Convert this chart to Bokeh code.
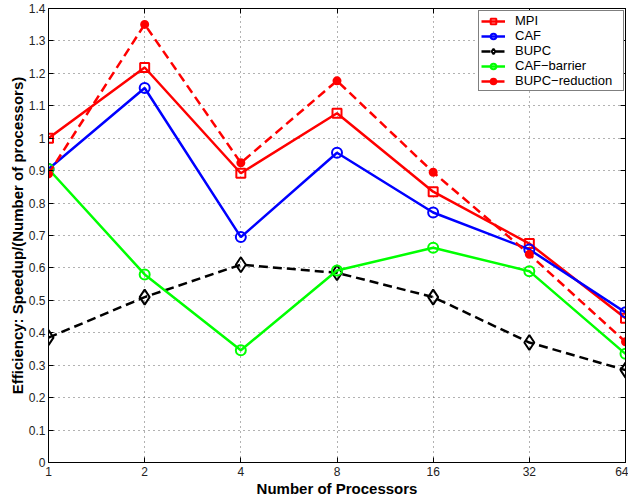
from bokeh.plotting import figure
from bokeh.models import FixedTicker, CustomJSTickFormatter, Legend, LegendItem, LinearAxis
from bokeh.embed import file_html
from bokeh.resources import INLINE

# ---- data ----
procs = ["1", "2", "4", "8", "16", "32", "64"]
mpi = [1.00, 1.218, 0.892, 1.077, 0.835, 0.675, 0.445]
caf = [0.905, 1.155, 0.695, 0.955, 0.771, 0.657, 0.463]
bupc = [0.385, 0.51, 0.61, 0.585, 0.51, 0.37, 0.285]
caf_barrier = [0.905, 0.58, 0.346, 0.592, 0.662, 0.59, 0.335]
bupc_reduction = [0.89, 1.351, 0.924, 1.177, 0.895, 0.642, 0.372]
y_ticks = [0, 0.1, 0.2, 0.3, 0.4, 0.5, 0.6, 0.7, 0.8, 0.9, 1.0, 1.1, 1.2, 1.3, 1.4]

x = list(range(len(procs)))
FONT = "Liberation Sans"

p = figure(width=628, height=499, x_range=(0, len(procs) - 1), y_range=(0, 1.4),
           output_backend="svg", toolbar_location=None,
           min_border_left=48, min_border_right=3, min_border_top=8, min_border_bottom=37)
p.background_fill_color = "white"
p.border_fill_color = "white"
p.outline_line_color = "black"
p.outline_line_width = 1
p.outline_line_alpha = 1

items = []
def series(label, ys, color, marker, dash="solid", size=9, fill=None):
    lr = p.line(x, ys, line_color=color, line_width=2.5, line_dash=dash)
    sr = p.scatter(x, ys, marker=marker, size=size, line_color=color, line_width=2,
                   fill_color=fill if fill else None)
    items.append(LegendItem(label=label, renderers=[lr, sr]))

series("MPI", mpi, "#ff0000", "square", size=9)
series("CAF", caf, "#0000ff", "circle", size=10)
series("BUPC", bupc, "#000000", "diamond", dash="9 5", size=15)
series("CAF\u2212barrier", caf_barrier, "#00ff00", "circle", size=10)
series("BUPC\u2212reduction", bupc_reduction, "#ff0000", "circle", dash="9 5", size=7, fill="#ff0000")

xax = p.below[0]
yax = p.left[0]
# mirror axes (ticks only) on top and right, MATLAB box style
xtop = LinearAxis()
yright = LinearAxis()
p.add_layout(yright, "right")
p.add_layout(xtop, "above")

xax.ticker = FixedTicker(ticks=x)
xtop.ticker = FixedTicker(ticks=x)
xax.major_label_overrides = {i: lbl for i, lbl in enumerate(procs)}
yax.ticker = FixedTicker(ticks=y_ticks)
yright.ticker = FixedTicker(ticks=y_ticks)
yax.formatter = CustomJSTickFormatter(code="return String(Math.round(tick*10)/10);")
for ax in (xax, yax, xtop, yright):
    ax.major_tick_in = 5
    ax.major_tick_out = 0
    ax.minor_tick_line_color = None
    ax.axis_line_color = "black"
    ax.axis_line_width = 1
    ax.major_tick_line_color = "black"
    ax.major_label_text_font = FONT
    ax.major_label_text_font_size = "12px"
    ax.major_label_text_color = "#222222"
    ax.axis_label_text_font = FONT
    ax.axis_label_text_font_size = "15px"
    ax.axis_label_text_font_style = "bold"
    ax.axis_label_text_color = "black"
for ax in (xtop, yright):
    ax.major_label_text_font_size = "0px"
    ax.major_label_standoff = 0
    ax.axis_label_standoff = 0
    ax.major_label_text_alpha = 0

xax.axis_label = "Number of Processors"
yax.axis_label = "Efficiency: Speedup/(Number of processors)"
xax.major_label_standoff = 4
yax.major_label_standoff = 3
xax.axis_label_standoff = 1
yax.axis_label_standoff = 0

# grid
for g in (p.xgrid, p.ygrid):
    g.grid_line_color = "#555555"
    g.grid_line_dash = "1 4"
    g.grid_line_width = 1
    g.grid_line_alpha = 0.9

legend = Legend(items=items, location=(430, 371))
legend.margin = 0
legend.padding = 2
legend.spacing = 0
legend.glyph_width = 24
legend.glyph_height = 14
legend.label_height = 14
legend.label_width = 106
legend.label_standoff = 10
legend.label_text_font = FONT
legend.label_text_font_size = "13px"
legend.label_text_color = "black"
legend.border_line_color = "black"
legend.border_line_width = 1
legend.background_fill_color = "white"
legend.background_fill_alpha = 1
p.add_layout(legend)

open("out.html", "w").write(file_html(p, INLINE))
